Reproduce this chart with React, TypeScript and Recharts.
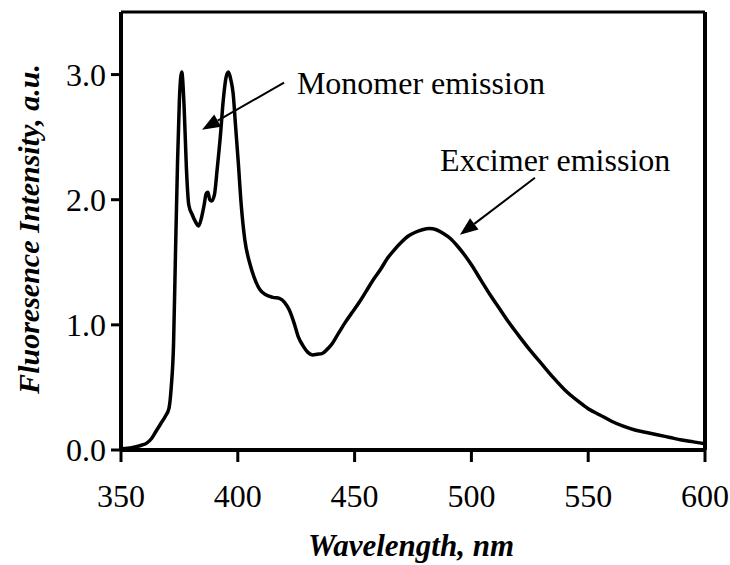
import React from 'react';
import { LineChart, Line, XAxis, YAxis, ReferenceLine, ReferenceDot } from 'recharts';

// emission spectrum (nm, a.u.)
const wavelengths = [
  350, 353, 356, 359, 361, 363, 365, 367, 369, 370.5, 371.5, 372.5, 373.3, 374.2, 375, 376, 377, 378, 379,
  380.5, 382, 383.2, 384.5, 385.5, 386.5, 387.2, 388, 388.8, 390, 391.2, 392.5, 393.8, 395, 396, 397, 398,
  399, 400.2, 401.5, 403, 405, 407, 409.5, 412, 415, 418, 420, 422, 424, 426, 428, 430, 432, 434, 436, 438,
  440, 443, 446, 449, 452, 455, 458, 461, 464, 467, 470, 473, 476, 479, 482, 485, 488, 491, 494, 497, 500,
  504, 508, 512, 516, 520, 525, 530, 535, 540, 545, 550, 555, 560, 565, 570, 575, 580, 585, 590, 595, 600,
];
const intensities = [
  0.01, 0.015, 0.025, 0.04, 0.055, 0.09, 0.15, 0.21, 0.27, 0.33, 0.5, 0.85, 1.55, 2.3, 2.8, 3.02, 2.75, 2.25, 1.96,
  1.88, 1.82, 1.79, 1.86, 1.95, 2.05, 2.06, 2.0, 1.99, 2.04, 2.25, 2.5, 2.8, 2.98, 3.02, 2.96, 2.85,
  2.6, 2.3, 1.95, 1.68, 1.5, 1.38, 1.28, 1.24, 1.22, 1.21, 1.18, 1.12, 1.02, 0.9, 0.83, 0.78, 0.76, 0.765, 0.77, 0.8,
  0.84, 0.93, 1.02, 1.1, 1.18, 1.27, 1.36, 1.44, 1.53, 1.6, 1.66, 1.71, 1.74, 1.76, 1.77, 1.76, 1.73, 1.69, 1.63, 1.56, 1.48,
  1.36, 1.24, 1.13, 1.02, 0.92, 0.8, 0.69, 0.58, 0.48, 0.4, 0.33, 0.28, 0.23, 0.19, 0.16, 0.14, 0.12, 0.1, 0.08, 0.065, 0.05,
];

const xTicks = [350, 400, 450, 500, 550, 600];
const yTicks = [0, 1, 2, 3];

const notes = [
  { x: 425.3, y: 2.936, text: 'Monomer emission' },
  { x: 486.6, y: 2.32, text: 'Excimer emission' },
];
const arrows = [
  { x1: 419.8, y1: 2.936, x2: 384.7, y2: 2.56 },
  { x1: 527.2, y1: 2.176, x2: 495.1, y2: 1.72 },
];

const data = wavelengths.map((w, i) => ({ w, v: intensities[i] }));

const FONT = '"Liberation Serif", "Times New Roman", serif';

const Arrow = (props: any) => {
  const { x1, y1, x2, y2 } = props;
  const dx = x2 - x1;
  const dy = y2 - y1;
  const len = Math.hypot(dx, dy) || 1;
  const ux = dx / len;
  const uy = dy / len;
  const hl = 18;
  const hw = 7;
  const bx = x2 - ux * hl;
  const by = y2 - uy * hl;
  const pts = `${x2},${y2} ${bx - uy * hw},${by + ux * hw} ${bx + uy * hw},${by - ux * hw}`;
  return (
    <g>
      <line x1={x1} y1={y1} x2={bx} y2={by} stroke="#000" strokeWidth={2} />
      <polygon points={pts} fill="#000" />
    </g>
  );
};

export default function App() {
  return (
    <div style={{ position: 'absolute', left: 0, top: 0, background: '#fff' }}>
      <LineChart width={730} height={565} data={data} margin={{ top: 12, right: 25, bottom: 0, left: 0 }}>
        <XAxis
          dataKey="w"
          type="number"
          domain={[350, 600]}
          ticks={xTicks}
          allowDataOverflow
          height={115}
          stroke="#000"
          strokeWidth={4}
          tickSize={12}
          tickMargin={22}
          tick={{ fill: '#000', fontSize: 32, fontFamily: FONT }}
          tickLine={{ stroke: '#000', strokeWidth: 3 }}
          label={{
            content: () => (
              <text x={411} y={556} textAnchor="middle" fontFamily={FONT} fontSize={31} fontWeight="bold" fontStyle="italic" fill="#000">
                Wavelength, nm
              </text>
            ),
          }}
        />
        <YAxis
          type="number"
          domain={[0, 3.5]}
          ticks={yTicks}
          width={121}
          stroke="#000"
          strokeWidth={4}
          tickSize={10}
          tickMargin={5}
          tickFormatter={(v: number) => v.toFixed(1)}
          tick={{ fill: '#000', fontSize: 32, fontFamily: FONT }}
          tickLine={{ stroke: '#000', strokeWidth: 3 }}
          label={{
            content: () => (
              <text
                x={39}
                y={229}
                transform="rotate(-90 39 229)"
                textAnchor="middle"
                fontFamily={FONT}
                fontSize={30}
                fontWeight="bold"
                fontStyle="italic"
                fill="#000"
              >
                Fluoresence Intensity, a.u.
              </text>
            ),
          }}
        />
        <ReferenceLine y={3.5} stroke="#000" strokeWidth={3} />
        <ReferenceLine x={600} stroke="#000" strokeWidth={4} />
        <Line
          type="monotone"
          dataKey="v"
          stroke="#000"
          strokeWidth={3.5}
          dot={false}
          isAnimationActive={false}
        />
        {arrows.map((a, i) => (
          <ReferenceLine
            key={`arrow-${i}`}
            segment={[
              { x: a.x1, y: a.y1 },
              { x: a.x2, y: a.y2 },
            ]}
            shape={Arrow}
          />
        ))}
        {notes.map((n, i) => (
          <ReferenceDot
            key={`note-${i}`}
            x={n.x}
            y={n.y}
            r={0}
            shape={(p: any) => (
              <text x={p.cx} y={p.cy} dominantBaseline="central" fontFamily={FONT} fontSize={32} fill="#000">
                {n.text}
              </text>
            )}
          />
        ))}
      </LineChart>
    </div>
  );
}
